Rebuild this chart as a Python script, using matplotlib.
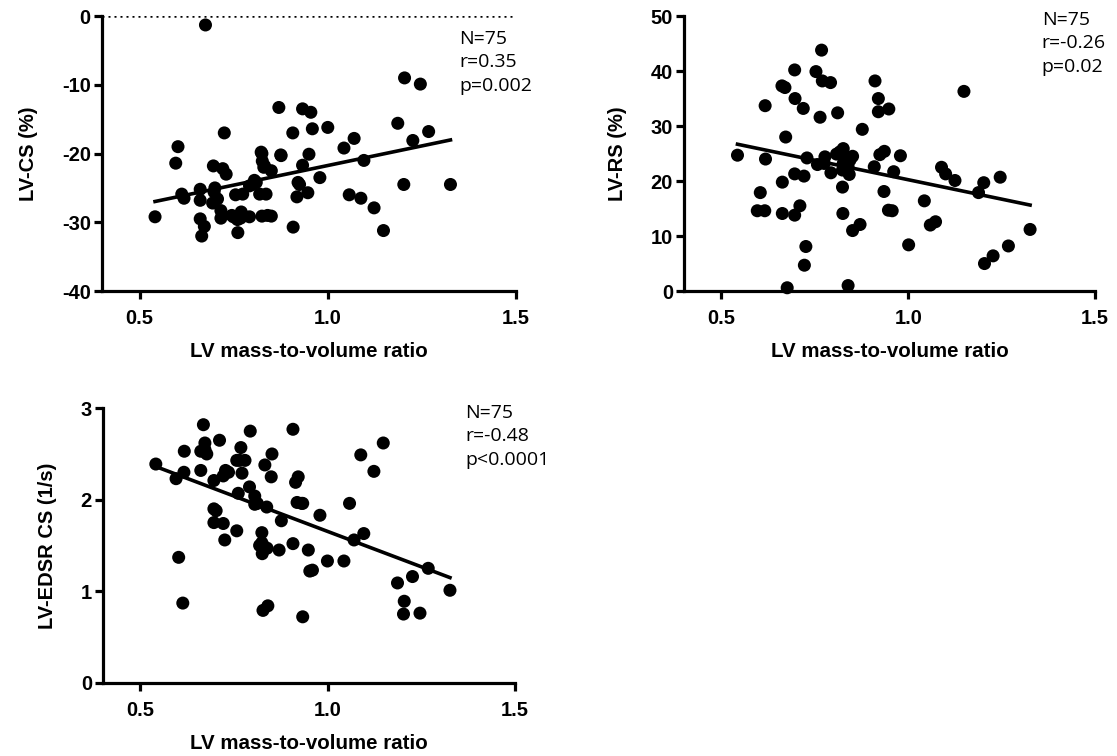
import numpy as np
import matplotlib
matplotlib.use("Agg")
import matplotlib.pyplot as plt

# ==== Data ====
# Panel 1: LV-CS vs LV mass-to-volume ratio
cs_x = [0.675, 1.204, 1.246, 0.870, 0.933, 0.955, 0.959, 1.000, 0.907, 0.725,
        1.186, 1.268, 1.070, 1.226, 1.043, 0.602, 0.596, 0.825, 0.876, 0.950,
        0.826, 0.832, 0.933, 1.096, 0.696, 0.721, 0.730, 0.850, 0.979, 0.921,
        0.925, 0.805, 0.792, 1.202, 1.326, 0.612, 0.618, 0.661, 0.698, 0.661,
        0.694, 0.707, 0.755, 0.774, 0.819, 0.836, 0.947, 0.918, 1.057, 1.088,
        1.123, 1.148, 0.541, 0.716, 0.716, 0.661, 0.672, 0.665, 0.749, 0.770,
        0.768, 0.792, 0.761, 0.825, 0.850, 0.840, 0.908, 0.823, 0.875, 0.810,
        0.700, 0.760, 0.830, 0.800, 0.745]
cs_y = [-1.3, -9.0, -9.9, -13.3, -13.5, -14.0, -16.4, -16.2, -17.0, -17.0,
        -15.6, -16.8, -17.8, -18.1, -19.2, -19.0, -21.4, -20.0, -20.3, -20.1,
        -21.1, -21.8, -21.7, -21.0, -21.8, -22.2, -23.0, -22.5, -23.5, -24.2,
        -24.5, -23.9, -24.7, -24.5, -24.5, -25.9, -26.5, -25.2, -25.6, -26.8,
        -27.2, -26.6, -26.0, -25.9, -25.9, -25.9, -25.7, -26.3, -26.0, -26.5,
        -27.9, -31.2, -29.2, -28.3, -29.4, -29.5, -30.6, -32.0, -29.2, -28.5,
        -29.4, -29.2, -31.5, -29.1, -29.1, -29.0, -30.7, -19.8, -20.2, -24.2,
        -25.0, -29.6, -22.0, -24.5, -29.0]

# Panel 2: LV-RS
rs_x = [0.768, 0.696, 0.753, 0.770, 0.792, 0.662, 0.670, 0.911, 0.697, 0.920,
        1.149, 0.617, 0.719, 0.920, 0.948, 0.811, 0.764, 0.877, 0.672, 0.543,
        0.618, 0.729, 0.757, 0.777, 0.775, 0.808, 0.826, 0.830, 0.851, 0.826,
        0.824, 0.842, 0.793, 0.924, 0.936, 0.979, 0.909, 0.961, 1.089, 1.100,
        1.125, 1.188, 1.202, 1.246, 0.696, 0.721, 0.663, 0.604, 0.824, 0.935,
        0.596, 0.616, 0.663, 0.696, 0.710, 0.825, 0.947, 0.957, 1.043, 1.059,
        1.073, 0.851, 0.871, 1.001, 1.326, 0.726, 0.722, 1.204, 1.227, 1.268,
        0.676, 0.839, 0.839, 0.817, 0.844]
rs_y = [43.8, 40.2, 39.9, 38.2, 37.9, 37.3, 37.0, 38.2, 35.0, 35.0,
        36.3, 33.7, 33.2, 32.6, 33.1, 32.4, 31.6, 29.4, 28.0, 24.7,
        24.0, 24.2, 23.0, 24.4, 23.2, 24.9, 25.9, 24.4, 24.5, 23.2,
        22.0, 21.2, 21.5, 24.8, 25.4, 24.6, 22.6, 21.7, 22.5, 21.3,
        20.1, 17.9, 19.7, 20.7, 21.3, 20.9, 19.8, 17.9, 18.9, 18.1,
        14.6, 14.6, 14.1, 13.8, 15.5, 14.1, 14.7, 14.6, 16.4, 12.0,
        12.6, 11.0, 12.1, 8.4, 11.2, 8.1, 4.7, 5.0, 6.4, 8.2,
        0.6, 1.0, 22.6, 25.3, 23.8]

# Panel 3: LV-EDSR CS
edsr_x = [0.668, 0.907, 0.793, 0.711, 0.672, 0.768, 0.661, 0.677, 0.617, 1.148,
          1.088, 0.851, 0.757, 0.779, 0.832, 0.541, 0.616, 0.661, 0.727, 0.771,
          0.721, 0.696, 0.849, 0.921, 0.914, 1.123, 0.595, 0.791, 0.761, 0.805,
          0.805, 0.837, 0.918, 0.933, 1.058, 0.696, 0.979, 0.876, 0.696, 0.721,
          0.757, 0.725, 0.824, 0.824, 0.838, 0.825, 0.870, 0.907, 0.948, 1.096,
          1.070, 0.999, 1.043, 1.268, 0.952, 0.959, 0.602, 1.226, 1.186, 1.326,
          1.204, 1.202, 1.246, 0.613, 0.840, 0.827, 0.933, 0.672, 0.735, 0.765,
          0.812, 0.829, 0.702, 0.930, 0.818]
edsr_y = [2.82, 2.77, 2.75, 2.65, 2.62, 2.57, 2.53, 2.50, 2.53, 2.62,
          2.49, 2.50, 2.43, 2.43, 2.38, 2.39, 2.30, 2.32, 2.32, 2.29,
          2.26, 2.21, 2.25, 2.25, 2.19, 2.31, 2.23, 2.14, 2.07, 2.04,
          1.95, 1.92, 1.97, 1.96, 1.96, 1.90, 1.83, 1.77, 1.75, 1.74,
          1.66, 1.56, 1.64, 1.53, 1.47, 1.41, 1.45, 1.52, 1.45, 1.63,
          1.56, 1.33, 1.33, 1.25, 1.22, 1.23, 1.37, 1.16, 1.09, 1.01,
          0.89, 0.75, 0.76, 0.87, 0.84, 0.79, 0.72, 2.55, 2.30, 2.43,
          1.96, 1.49, 1.88, 1.96, 1.50]

x_ticks = [0.5, 1.0, 1.5]
x_label = "LV mass-to-volume ratio"

panels = [
    dict(x=cs_x, y=cs_y, ylabel="LV-CS (%)", yticks=[0, -10, -20, -30, -40],
         ylim=(-40, 0), stats="N=75\nr=0.35\np=0.002", zero_line=True,
         rect=[0.0913, 0.615, 0.3706, 0.3638], txt=(0.863, 0.950)),
    dict(x=rs_x, y=rs_y, ylabel="LV-RS (%)", yticks=[0, 10, 20, 30, 40, 50],
         ylim=(0, 50), stats="N=75\nr=-0.26\np=0.02", zero_line=False,
         rect=[0.6124, 0.615, 0.368, 0.3638], txt=(0.870, 1.020)),
    dict(x=edsr_x, y=edsr_y, ylabel="LV-EDSR CS (1/s)", yticks=[0, 1, 2, 3],
         ylim=(0, 3), stats="N=75\nr=-0.48\np<0.0001", zero_line=False,
         rect=[0.0922, 0.097, 0.3690, 0.363], txt=(0.878, 1.017)),
]

BOLD = dict(family="Liberation Sans", fontweight="bold")

fig = plt.figure(figsize=(11.17, 7.56), dpi=100)

for p in panels:
    ax = fig.add_axes(p["rect"])
    x = np.array(p["x"])
    y = np.array(p["y"])
    ax.scatter(x, y, s=88, color="black", edgecolors="none", zorder=3, clip_on=False)

    # garis regresi linier
    k, b = np.polyfit(x, y, 1)
    xs = np.array([x.min(), x.max()])
    ax.plot(xs, k * xs + b, color="black", lw=2.6, zorder=2)

    if p["zero_line"]:
        ax.axhline(0, color="black", lw=1.8, ls=(0, (0.8, 1.6)), zorder=1)

    ax.set_xlim(0.4, 1.5)
    ax.set_ylim(*p["ylim"])
    ax.set_xticks(x_ticks)
    ax.set_xticklabels([f"{v:.1f}" for v in x_ticks], fontsize=14.5, **BOLD)
    ax.set_yticks(p["yticks"])
    ax.set_yticklabels([str(v) for v in p["yticks"]], fontsize=14.5, **BOLD)
    ax.set_xlabel(x_label, fontsize=14.8, labelpad=10, **BOLD)
    ax.set_ylabel(p["ylabel"], fontsize=14.5, labelpad=17, **BOLD)

    for side in ["top", "right"]:
        ax.spines[side].set_visible(False)
    for side in ["left", "bottom"]:
        ax.spines[side].set_linewidth(2.3)
    ax.tick_params(axis="both", direction="out", length=6, width=2.3, pad=2)
    ax.tick_params(axis="x", pad=7)

    ax.text(p["txt"][0], p["txt"][1], p["stats"], transform=ax.transAxes,
            ha="left", va="top", fontsize=14, family="Open Sans", linespacing=1.4)

fig.savefig("out.png", dpi=100)
